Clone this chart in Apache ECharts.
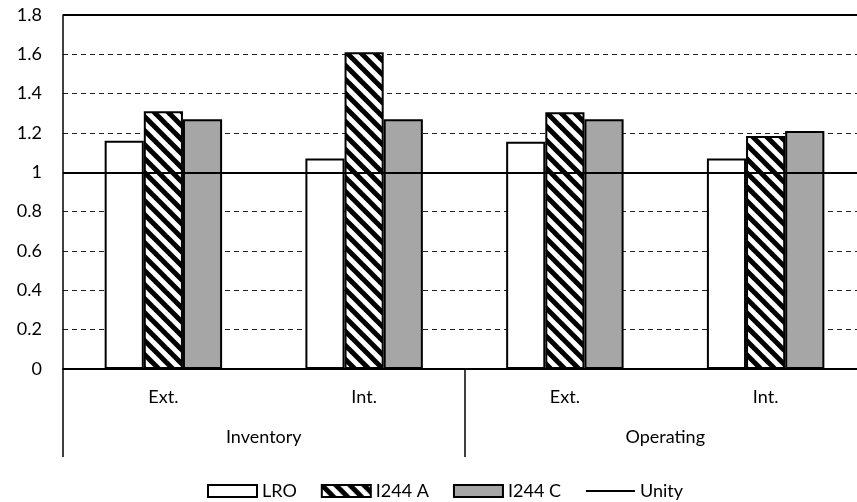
<!DOCTYPE html>
<html><head><meta charset="utf-8">
<script src="https://cdn.jsdelivr.net/npm/echarts@6/dist/echarts.min.js"></script>
<style>html,body{margin:0;padding:0;background:#fff}#c{width:857px;height:502px}</style>
</head><body><div id="c"></div>
<script>
const subCategories = ['Ext.', 'Int.', 'Ext.', 'Int.'];
const groupCategories = ['Inventory', 'Operating'];
const lro = [1.16, 1.07, 1.155, 1.07];
const i244a = [1.31, 1.61, 1.305, 1.185];
const i244c = [1.27, 1.27, 1.27, 1.21];
const unity = 1;
const yTop = 1.8;

function hatch(){
  const s = 14;
  const c = document.createElement('canvas'); c.width = s; c.height = s;
  const g = c.getContext('2d');
  g.fillStyle = '#fff'; g.fillRect(0,0,s,s);
  g.strokeStyle = '#000'; g.lineWidth = 5;
  for (let k=-1;k<=1;k++){ g.beginPath(); g.moveTo(k*s - 2, -2); g.lineTo(k*s + s + 2, s + 2); g.stroke(); }
  return c;
}
const font = 'Lato, "Open Sans", sans-serif';
const fs = 18;
const chart = echarts.init(document.getElementById('c'));
chart.setOption({
  animation: false,
  textStyle: {fontFamily: font},
  grid: {left: 63, width: 803, top: 15, height: 354, outerBoundsMode: 'none', containLabel: false},
  legend: {
    top: 477, left: 202, itemWidth: 49, itemHeight: 12, itemGap: 24,
    textStyle: {fontSize: fs, color: '#000', fontFamily: font},
    data: [{name: 'LRO', icon: 'rect'}, {name: 'I244 A', icon: 'rect'}, {name: 'I244 C', icon: 'rect'},
           {name: 'Unity', itemStyle: {opacity: 0}}]
  },
  xAxis: [
    {type: 'category', data: subCategories, position: 'bottom',
     axisLine: {lineStyle: {color: '#000', width: 2}},
     axisTick: {show: false},
     axisLabel: {color: '#000', fontSize: fs, margin: 19, fontFamily: font}},
    {type: 'category', data: groupCategories, position: 'bottom',
     axisLine: {show: false},
     axisTick: {show: true, length: 88, interval: 0, lineStyle: {color: '#000', width: 1.5}},
     axisLabel: {color: '#000', fontSize: fs, margin: 59, fontFamily: font}}
  ],
  yAxis: {
    type: 'value', min: 0, max: yTop, interval: 0.2,
    axisLine: {show: true, lineStyle: {color: '#000', width: 1.5}},
    axisTick: {show: false},
    axisLabel: {color: '#000', fontSize: fs, margin: 21, fontFamily: font},
    splitLine: {show: true, lineStyle: {color: '#222', type: [5, 4], width: 1}}
  },
  series: [
    {name: 'LRO', type: 'bar', data: lro, barGap: '0%', barCategoryGap: '41.5%',
     itemStyle: {color: '#fff', borderColor: '#000', borderWidth: 2}},
    {name: 'I244 A', type: 'bar', data: i244a,
     itemStyle: {color: {image: hatch(), repeat: 'repeat'}, borderColor: '#000', borderWidth: 2}},
    {name: 'I244 C', type: 'bar', data: i244c,
     itemStyle: {color: '#a6a6a6', borderColor: '#000', borderWidth: 2}},
    {name: 'Unity', type: 'line', data: [], symbol: 'none',
     lineStyle: {color: '#000', width: 2}, itemStyle: {color: '#000'},
     markLine: {silent: true, symbol: 'none', label: {show: false},
       lineStyle: {color: '#000', type: 'solid', width: 2},
       data: [{yAxis: unity}, {yAxis: yTop}]}}
  ]
});
</script></body></html>
